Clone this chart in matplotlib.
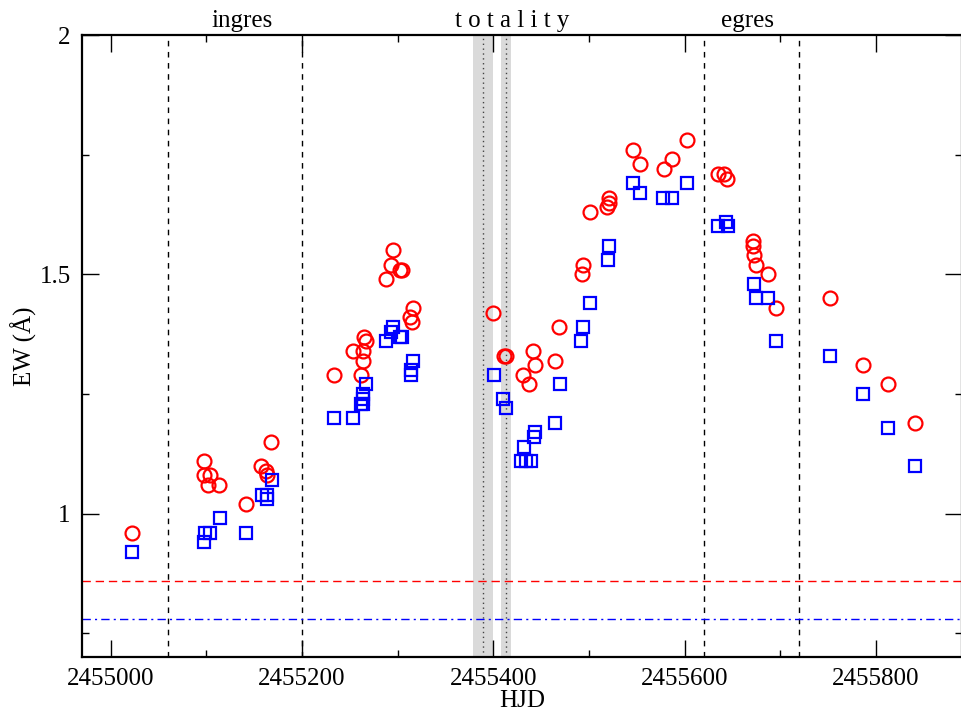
import matplotlib
matplotlib.use('Agg')
import matplotlib.pyplot as plt
from matplotlib.ticker import MultipleLocator, FormatStrFormatter
import matplotlib.transforms as mtransforms

plt.rcParams['font.family'] = ['Liberation Serif', 'DejaVu Serif']

# EW measurements, first line (circles)
hjd_red = [2455022, 2455098, 2455098, 2455104, 2455102, 2455113, 2455142, 2455157,
           2455162, 2455163, 2455168, 2455233, 2455253, 2455262, 2455264, 2455264,
           2455265, 2455267, 2455288, 2455293, 2455295, 2455303, 2455305, 2455313,
           2455315, 2455316, 2455400, 2455411, 2455413, 2455431, 2455437, 2455442,
           2455444, 2455465, 2455469, 2455493, 2455494, 2455501, 2455519, 2455521,
           2455521, 2455546, 2455553, 2455578, 2455587, 2455603, 2455635, 2455641,
           2455644, 2455672, 2455672, 2455673, 2455675, 2455687, 2455696, 2455752,
           2455786, 2455813, 2455841]
ew_red = [0.96, 1.11, 1.08, 1.08, 1.06, 1.06, 1.02, 1.10,
          1.09, 1.08, 1.15, 1.29, 1.34, 1.29, 1.32, 1.34,
          1.37, 1.36, 1.49, 1.52, 1.55, 1.51, 1.51, 1.41,
          1.40, 1.43, 1.42, 1.33, 1.33, 1.29, 1.27, 1.34,
          1.31, 1.32, 1.39, 1.50, 1.52, 1.63, 1.64, 1.65,
          1.66, 1.76, 1.73, 1.72, 1.74, 1.78, 1.71, 1.71,
          1.70, 1.57, 1.56, 1.54, 1.52, 1.50, 1.43, 1.45,
          1.31, 1.27, 1.19]

# EW measurements, second line (squares)
hjd_blue = [2455022, 2455098, 2455099, 2455104, 2455114, 2455142, 2455158, 2455163,
            2455163, 2455169, 2455233, 2455253, 2455262, 2455264, 2455264, 2455264,
            2455267, 2455288, 2455293, 2455295, 2455303, 2455305, 2455314, 2455314,
            2455316, 2455401, 2455410, 2455413, 2455429, 2455432, 2455434, 2455439,
            2455443, 2455444, 2455465, 2455470, 2455492, 2455494, 2455501, 2455520,
            2455521, 2455546, 2455553, 2455577, 2455587, 2455603, 2455635, 2455643,
            2455645, 2455673, 2455675, 2455687, 2455696, 2455752, 2455786, 2455813,
            2455841]
ew_blue = [0.92, 0.94, 0.96, 0.96, 0.99, 0.96, 1.04, 1.04,
           1.03, 1.07, 1.20, 1.20, 1.23, 1.23, 1.24, 1.25,
           1.27, 1.36, 1.38, 1.39, 1.37, 1.37, 1.29, 1.30,
           1.32, 1.29, 1.24, 1.22, 1.11, 1.14, 1.11, 1.11,
           1.16, 1.17, 1.19, 1.27, 1.36, 1.39, 1.44, 1.53,
           1.56, 1.69, 1.67, 1.66, 1.66, 1.69, 1.60, 1.61,
           1.60, 1.48, 1.45, 1.45, 1.36, 1.33, 1.25, 1.18,
           1.10]

# eclipse contacts and totality intervals
contacts = [2455060, 2455200, 2455620, 2455720]
totality_mid = [2455389.5, 2455413.5]
totality_half = [10.5, 5.0]
ew_level_red = 0.86
ew_level_blue = 0.78

phase_labels = ['ingres', 't o t a l i t y', 'egres']
phase_x = [2455137, 2455420, 2455666]

fig = plt.figure(figsize=(9.62, 7.13), dpi=100)
ax = fig.add_axes([0.0852, 0.0781, 0.9148, 0.8728])

for m, h in zip(totality_mid, totality_half):
    ax.axvspan(m - h, m + h, color='#dadada', lw=0, zorder=0)
    ax.axvline(m, color='#444444', ls=(0, (1, 2.5)), lw=1.0, zorder=1)

for c in contacts:
    ax.axvline(c, color='black', ls=(0, (4, 4)), lw=1.0, zorder=1)

ax.axhline(ew_level_red, color='red', ls=(0, (6, 3.5)), lw=1.0, zorder=1)
ax.axhline(ew_level_blue, color='blue', ls=(0, (6, 3, 1.5, 3)), lw=1.0, zorder=1)

ax.plot(hjd_red, ew_red, 'o', ms=10, mfc='none', mec='red', mew=1.6, zorder=3)
ax.plot(hjd_blue, ew_blue, 's', ms=8.6, mfc='none', mec='blue', mew=1.6, zorder=3)

ax.set_xlim(2454970, 2455890)
ax.set_ylim(0.7, 2.0)

ax.xaxis.set_major_locator(MultipleLocator(200))
ax.xaxis.set_minor_locator(MultipleLocator(100))
ax.xaxis.set_major_formatter(FormatStrFormatter('%d'))
ax.yaxis.set_major_locator(MultipleLocator(0.5))
ax.yaxis.set_minor_locator(MultipleLocator(0.25))
ax.set_yticks([1, 1.5, 2])
ax.set_yticklabels(['1', '1.5', '2'])
ax.tick_params(which='both', direction='in', top=True, right=True, labelsize=18, width=1.0)
ax.tick_params(which='major', length=12, pad=8)
ax.tick_params(which='minor', length=5)
for s in ax.spines.values():
    s.set_linewidth(1.6)

ax.set_xlabel('HJD', fontsize=18, labelpad=0)
ax.set_ylabel('EW (Å)', fontsize=18, labelpad=2)

trans = mtransforms.blended_transform_factory(ax.transData, ax.transAxes)
for lab, x in zip(phase_labels, phase_x):
    ax.annotate(lab, xy=(x, 1.0), xycoords=trans, xytext=(0, 2), textcoords='offset points',
                ha='center', va='bottom', fontsize=18, annotation_clip=False)

fig.savefig('out.png', dpi=100)
